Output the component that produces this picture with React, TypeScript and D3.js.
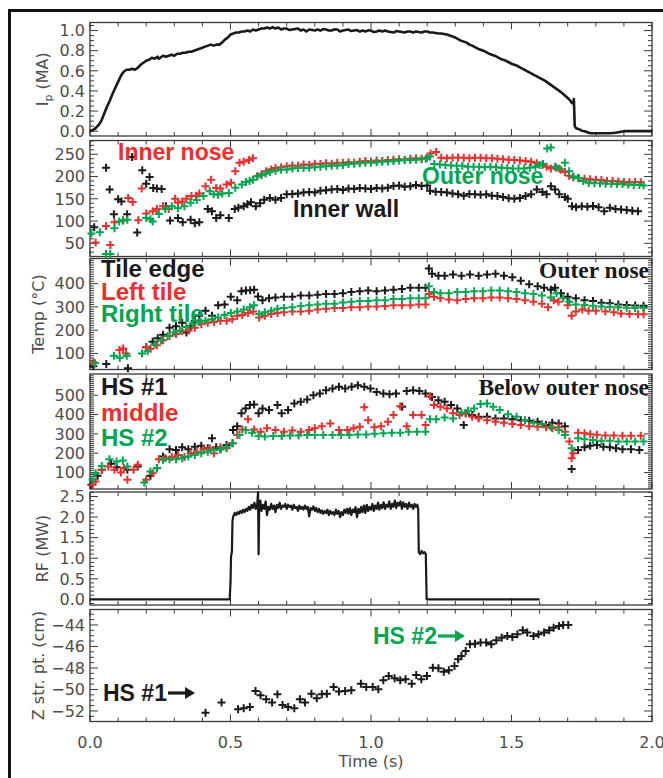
import React from "react";
import * as d3 from "d3";

type Pt = [number, number];

// ---------------- data ----------------
const timeTicks = [0, 0.5, 1.0, 1.5, 2.0];
const timeTickLabels = ["0.0", "0.5", "1.0", "1.5", "2.0"];

const ipTicks = [0, 0.2, 0.4, 0.6, 0.8, 1.0];
const ipTickLabels = ["0.0", "0.2", "0.4", "0.6", "0.8", "1.0"];
const noseTicks = [50, 100, 150, 200, 250];
const noseTickLabels = ["50", "100", "150", "200", "250"];
const tileTicks = [100, 200, 300, 400];
const tileTickLabels = ["100", "200", "300", "400"];
const belowTicks = [100, 200, 300, 400, 500];
const belowTickLabels = ["100", "200", "300", "400", "500"];
const rfTicks = [0, 0.5, 1.0, 1.5, 2.0, 2.5];
const rfTickLabels = ["0.0", "0.5", "1.0", "1.5", "2.0", "2.5"];
const zTicks = [-52, -50, -48, -46, -44];
const zTickLabels = ["\u221252", "\u221250", "\u221248", "\u221246", "\u221244"];

// Plasma current (MA)
const ipCurrent: Pt[] = [
  [0, 0], [0.01, 0.01], [0.02, 0.03], [0.03, 0.06], [0.04, 0.1], [0.05, 0.17], [0.06, 0.24], [0.07, 0.3],
  [0.08, 0.37], [0.09, 0.43], [0.1, 0.49], [0.11, 0.55], [0.12, 0.59], [0.13, 0.61], [0.14, 0.61], [0.15, 0.62],
  [0.16, 0.61], [0.17, 0.63], [0.18, 0.66], [0.19, 0.68], [0.2, 0.7], [0.21, 0.71], [0.22, 0.73], [0.23, 0.72],
  [0.24, 0.74], [0.245, 0.72], [0.25, 0.73], [0.26, 0.75], [0.27, 0.74], [0.28, 0.75], [0.29, 0.76], [0.3, 0.75],
  [0.31, 0.77], [0.32, 0.77], [0.33, 0.78], [0.34, 0.78], [0.35, 0.79], [0.36, 0.79], [0.37, 0.8], [0.38, 0.81],
  [0.39, 0.82], [0.4, 0.83], [0.41, 0.84], [0.42, 0.85], [0.43, 0.86], [0.44, 0.85], [0.45, 0.86], [0.46, 0.86],
  [0.47, 0.88], [0.48, 0.91], [0.49, 0.93], [0.5, 0.96], [0.51, 0.97], [0.52, 0.98], [0.53, 0.98], [0.54, 0.99],
  [0.55, 0.99], [0.56, 1.0], [0.57, 0.99], [0.58, 1.01], [0.59, 1.0], [0.6, 1.01], [0.61, 1.02], [0.62, 1.02],
  [0.63, 1.03], [0.64, 1.02], [0.65, 1.035], [0.66, 1.02], [0.67, 1.03], [0.68, 1.01], [0.69, 1.02], [0.7, 1.02],
  [0.71, 1.005], [0.72, 1.01], [0.73, 1.015], [0.74, 1.02], [0.75, 1.0], [0.76, 1.01], [0.77, 0.99], [0.78, 1.01],
  [0.79, 1.005], [0.8, 1.0], [0.81, 1.01], [0.82, 1.0], [0.83, 1.015], [0.84, 1.01], [0.85, 1.0], [0.86, 1.0],
  [0.87, 1.012], [0.88, 1.01], [0.89, 0.99], [0.9, 1.0], [0.91, 1.005], [0.92, 1.01], [0.93, 0.995], [0.94, 1.0],
  [0.95, 1.005], [0.96, 0.99], [0.97, 1.0], [0.98, 0.99], [0.99, 1.002], [1.0, 1.0], [1.01, 0.985], [1.02, 0.99],
  [1.03, 1.0], [1.04, 0.99], [1.05, 1.0], [1.06, 0.99], [1.07, 0.985], [1.08, 0.98], [1.09, 0.995], [1.1, 0.99],
  [1.11, 0.985], [1.12, 0.98], [1.13, 0.99], [1.14, 0.99], [1.15, 0.98], [1.16, 0.99], [1.17, 0.985], [1.18, 0.98],
  [1.19, 0.99], [1.2, 0.99], [1.21, 0.98], [1.22, 0.98], [1.23, 0.975], [1.24, 0.97], [1.25, 0.97], [1.26, 0.965],
  [1.27, 0.96], [1.28, 0.95], [1.29, 0.94], [1.3, 0.93], [1.31, 0.915], [1.32, 0.9], [1.33, 0.89], [1.34, 0.88],
  [1.35, 0.86], [1.36, 0.85], [1.37, 0.835], [1.38, 0.82], [1.39, 0.81], [1.4, 0.8], [1.41, 0.785], [1.42, 0.77],
  [1.43, 0.76], [1.44, 0.75], [1.45, 0.735], [1.46, 0.72], [1.47, 0.71], [1.48, 0.7], [1.49, 0.685], [1.5, 0.67],
  [1.51, 0.66], [1.52, 0.65], [1.53, 0.635], [1.54, 0.62], [1.55, 0.605], [1.56, 0.59], [1.57, 0.575], [1.58, 0.56],
  [1.59, 0.545], [1.6, 0.53], [1.61, 0.515], [1.62, 0.5], [1.63, 0.48], [1.64, 0.46], [1.65, 0.44], [1.66, 0.42],
  [1.67, 0.4], [1.68, 0.38], [1.69, 0.355], [1.7, 0.33], [1.71, 0.3], [1.715, 0.28], [1.72, 0.275], [1.722, 0.32],
  [1.725, 0.05], [1.73, 0.03], [1.74, 0.02], [1.75, 0.005], [1.76, 0.0], [1.78, -0.02], [1.8, -0.02], [1.83, -0.02],
  [1.85, -0.02], [1.87, -0.015], [1.88, -0.01], [1.9, 0.0], [1.95, 0.0], [2.0, 0.0],
];

// Panel 2: inner nose (red), outer nose (green), inner wall (black)
const innerNose: Pt[] = [
  [0.02, 52], [0.057, 89], [0.072, 46], [0.087, 97], [0.118, 102], [0.136, 152], [0.152, 143], [0.172, 102],
  [0.184, 173], [0.2, 117], [0.223, 122], [0.238, 127], [0.26, 133], [0.28, 127], [0.303, 150], [0.313, 141],
  [0.328, 144], [0.343, 150], [0.361, 156], [0.377, 157], [0.389, 162], [0.411, 178], [0.431, 193], [0.449, 174],
  [0.464, 173], [0.486, 182], [0.502, 186], [0.517, 212], [0.532, 231], [0.547, 233], [0.566, 237], [0.58, 241],
  [0.596, 201], [0.611, 205], [0.627, 212], [0.645, 216], [0.66, 219], [0.68, 221], [0.7, 223], [0.72, 225],
  [0.74, 224], [0.76, 227], [0.78, 226], [0.8, 229], [0.82, 228], [0.84, 230], [0.86, 229], [0.88, 231],
  [0.9, 231], [0.92, 232], [0.94, 231], [0.96, 233], [0.98, 235], [1.0, 234], [1.02, 236], [1.04, 235],
  [1.06, 237], [1.08, 238], [1.1, 239], [1.12, 238], [1.14, 240], [1.16, 241], [1.18, 240], [1.2, 242],
  [1.212, 252], [1.232, 255], [1.25, 242], [1.27, 241], [1.29, 242], [1.31, 243], [1.33, 242], [1.35, 241],
  [1.37, 242], [1.39, 242], [1.41, 241], [1.43, 241], [1.45, 240], [1.47, 239], [1.49, 238], [1.51, 237],
  [1.53, 236], [1.55, 235], [1.57, 233], [1.59, 230], [1.61, 226], [1.625, 222], [1.64, 218], [1.66, 220],
  [1.675, 215], [1.69, 210], [1.705, 202], [1.72, 198], [1.74, 196], [1.76, 195], [1.78, 194], [1.8, 193],
  [1.82, 192], [1.84, 190], [1.86, 190], [1.88, 189], [1.9, 188], [1.92, 187], [1.94, 188], [1.96, 187],
];
const outerNose: Pt[] = [
  [0.005, 72], [0.035, 75], [0.057, 26], [0.072, 26], [0.087, 84], [0.104, 99], [0.118, 101], [0.133, 103],
  [0.2, 107], [0.215, 104], [0.223, 99], [0.245, 116], [0.268, 127], [0.291, 133], [0.313, 129], [0.336, 133],
  [0.358, 141], [0.38, 147], [0.404, 156], [0.426, 167], [0.44, 160], [0.455, 159], [0.471, 162], [0.494, 163],
  [0.517, 175], [0.54, 182], [0.555, 188], [0.568, 190], [0.58, 193], [0.595, 200], [0.61, 203], [0.625, 207],
  [0.64, 210], [0.66, 213], [0.68, 215], [0.7, 216], [0.72, 218], [0.74, 219], [0.76, 219], [0.78, 220],
  [0.8, 221], [0.82, 222], [0.84, 223], [0.86, 224], [0.88, 225], [0.9, 226], [0.92, 228], [0.94, 229],
  [0.96, 230], [0.98, 231], [1.0, 231], [1.02, 232], [1.04, 233], [1.06, 234], [1.08, 235], [1.1, 236],
  [1.12, 237], [1.14, 237], [1.16, 238], [1.18, 239], [1.195, 240], [1.21, 245], [1.225, 228], [1.245, 227],
  [1.265, 226], [1.285, 225], [1.305, 224], [1.325, 224], [1.345, 222], [1.365, 222], [1.385, 222], [1.405, 221],
  [1.425, 222], [1.445, 221], [1.465, 220], [1.485, 219], [1.505, 218], [1.525, 218], [1.545, 218], [1.565, 220],
  [1.585, 222], [1.6, 226], [1.612, 228], [1.627, 263], [1.64, 265], [1.655, 222], [1.67, 218], [1.69, 231],
  [1.705, 212], [1.72, 200], [1.737, 197], [1.755, 190], [1.775, 186], [1.795, 185], [1.815, 185], [1.835, 184],
  [1.855, 184], [1.875, 183], [1.895, 183], [1.915, 182], [1.935, 181], [1.955, 181], [1.97, 180],
];
const innerWall: Pt[] = [
  [0.015, 86], [0.057, 220], [0.07, 171], [0.085, 115], [0.1, 149], [0.112, 144], [0.132, 115], [0.15, 244],
  [0.168, 74], [0.186, 214], [0.2, 184], [0.212, 199], [0.225, 174], [0.238, 173], [0.255, 172], [0.27, 133],
  [0.285, 101], [0.313, 107], [0.33, 97], [0.358, 103], [0.373, 95], [0.389, 97], [0.419, 127], [0.434, 122],
  [0.449, 107], [0.464, 113], [0.494, 107], [0.515, 127], [0.528, 130], [0.547, 133], [0.56, 138], [0.573, 142],
  [0.59, 133], [0.605, 140], [0.62, 148], [0.64, 152], [0.66, 148], [0.68, 152], [0.7, 160], [0.72, 161],
  [0.74, 162], [0.76, 164], [0.78, 165], [0.8, 164], [0.82, 168], [0.84, 169], [0.86, 171], [0.88, 172],
  [0.9, 170], [0.92, 173], [0.94, 172], [0.96, 174], [0.98, 173], [1.0, 172], [1.02, 174], [1.04, 173],
  [1.06, 175], [1.08, 179], [1.1, 180], [1.12, 177], [1.14, 178], [1.16, 181], [1.18, 179], [1.2, 180],
  [1.21, 168], [1.23, 166], [1.25, 165], [1.27, 164], [1.29, 162], [1.31, 160], [1.33, 157], [1.35, 161],
  [1.37, 160], [1.39, 159], [1.41, 160], [1.43, 157], [1.45, 156], [1.47, 154], [1.49, 151], [1.51, 150],
  [1.53, 152], [1.55, 156], [1.57, 160], [1.59, 171], [1.61, 165], [1.625, 160], [1.64, 178], [1.655, 171],
  [1.67, 160], [1.69, 154], [1.7, 150], [1.715, 133], [1.73, 131], [1.75, 133], [1.77, 132], [1.79, 134],
  [1.81, 131], [1.83, 122], [1.85, 130], [1.87, 127], [1.89, 126], [1.91, 125], [1.93, 123], [1.95, 122],
];

// Panel 3: outer nose tiles
const tileEdge: Pt[] = [
  [0.012, 45], [0.058, 55], [0.135, 36], [0.2, 127], [0.223, 150], [0.241, 165], [0.26, 180], [0.283, 210],
  [0.306, 217], [0.328, 232], [0.343, 190], [0.358, 217], [0.373, 240], [0.389, 262], [0.411, 284], [0.434, 262],
  [0.456, 307], [0.479, 310], [0.501, 344], [0.524, 329], [0.539, 367], [0.555, 370], [0.57, 372], [0.584, 374],
  [0.598, 345], [0.614, 329], [0.637, 337], [0.66, 340], [0.69, 344], [0.72, 344], [0.75, 349], [0.78, 349],
  [0.81, 352], [0.84, 355], [0.87, 355], [0.9, 359], [0.93, 364], [0.96, 367], [0.99, 370], [1.02, 367],
  [1.05, 370], [1.08, 374], [1.11, 377], [1.14, 382], [1.17, 382], [1.194, 382], [1.206, 465], [1.217, 442],
  [1.24, 434], [1.262, 434], [1.292, 439], [1.322, 434], [1.352, 439], [1.383, 434], [1.413, 439], [1.443, 442],
  [1.473, 434], [1.503, 427], [1.533, 412], [1.563, 397], [1.593, 389], [1.616, 382], [1.64, 374], [1.655, 382],
  [1.676, 359], [1.7, 344], [1.729, 337], [1.76, 329], [1.79, 325], [1.82, 318], [1.85, 316], [1.88, 310],
  [1.91, 308], [1.94, 306], [1.97, 305],
];
const leftTile: Pt[] = [
  [0.012, 62], [0.105, 115], [0.118, 121], [0.128, 100], [0.2, 127], [0.215, 120], [0.238, 135], [0.26, 157],
  [0.283, 175], [0.306, 184], [0.328, 195], [0.351, 199], [0.373, 210], [0.396, 225], [0.419, 232], [0.441, 235],
  [0.464, 240], [0.486, 240], [0.506, 247], [0.524, 262], [0.542, 265], [0.562, 274], [0.581, 280], [0.602, 254],
  [0.622, 262], [0.645, 269], [0.667, 274], [0.69, 277], [0.72, 280], [0.75, 280], [0.78, 284], [0.81, 289],
  [0.84, 292], [0.87, 295], [0.9, 295], [0.93, 299], [0.96, 299], [0.99, 302], [1.02, 302], [1.05, 304],
  [1.08, 307], [1.11, 307], [1.14, 307], [1.17, 310], [1.194, 310], [1.206, 355], [1.224, 344], [1.247, 337],
  [1.277, 332], [1.307, 329], [1.337, 334], [1.367, 337], [1.398, 337], [1.428, 340], [1.458, 340], [1.488, 337],
  [1.518, 334], [1.548, 329], [1.578, 322], [1.608, 314], [1.63, 299], [1.65, 329], [1.667, 322], [1.7, 307],
  [1.714, 262], [1.729, 280], [1.752, 289], [1.774, 284], [1.8, 284], [1.834, 280], [1.864, 277], [1.89, 272],
  [1.92, 270], [1.95, 268], [1.97, 268],
];
const rightTile: Pt[] = [
  [0.018, 58], [0.085, 90], [0.106, 82], [0.131, 90], [0.185, 100], [0.205, 109], [0.23, 139], [0.253, 157],
  [0.276, 175], [0.298, 190], [0.32, 199], [0.343, 214], [0.366, 225], [0.389, 235], [0.411, 240], [0.434, 247],
  [0.456, 254], [0.479, 265], [0.501, 274], [0.524, 280], [0.547, 289], [0.569, 299], [0.584, 307], [0.602, 269],
  [0.622, 277], [0.645, 284], [0.667, 292], [0.69, 295], [0.72, 299], [0.75, 304], [0.78, 307], [0.81, 310],
  [0.84, 314], [0.87, 314], [0.9, 319], [0.93, 322], [0.96, 325], [0.99, 325], [1.02, 329], [1.05, 329],
  [1.08, 334], [1.11, 334], [1.14, 337], [1.17, 337], [1.194, 337], [1.206, 389], [1.224, 364], [1.247, 359],
  [1.277, 359], [1.307, 364], [1.337, 364], [1.367, 367], [1.398, 367], [1.428, 370], [1.458, 370], [1.488, 367],
  [1.518, 364], [1.548, 359], [1.578, 355], [1.608, 349], [1.64, 340], [1.66, 359], [1.684, 337], [1.706, 322],
  [1.729, 310], [1.76, 308], [1.79, 305], [1.82, 302], [1.85, 300], [1.88, 298], [1.91, 296], [1.94, 295],
  [1.97, 295],
];

// Panel 4: below outer nose
const hs1: Pt[] = [
  [0.005, 37], [0.027, 83], [0.042, 114], [0.075, 145], [0.095, 128], [0.133, 114], [0.17, 131], [0.215, 83],
  [0.238, 122], [0.26, 183], [0.283, 220], [0.306, 217], [0.328, 231], [0.35, 220], [0.373, 234], [0.396, 238],
  [0.419, 226], [0.434, 277], [0.449, 231], [0.464, 220], [0.486, 243], [0.509, 320], [0.524, 340], [0.539, 406],
  [0.554, 431], [0.569, 449], [0.584, 452], [0.6, 406], [0.614, 431], [0.637, 423], [0.667, 449], [0.682, 406],
  [0.705, 423], [0.727, 457], [0.75, 466], [0.773, 478], [0.795, 500], [0.818, 509], [0.84, 526], [0.863, 534],
  [0.886, 543], [0.908, 534], [0.931, 543], [0.953, 551], [0.976, 543], [0.998, 534], [1.02, 517], [1.044, 509],
  [1.066, 505], [1.089, 509], [1.111, 440], [1.127, 522], [1.15, 526], [1.172, 522], [1.194, 509], [1.217, 491],
  [1.24, 474], [1.262, 466], [1.285, 449], [1.307, 431], [1.33, 346], [1.337, 406], [1.36, 397], [1.383, 389],
  [1.413, 389], [1.443, 380], [1.473, 380], [1.503, 375], [1.533, 371], [1.563, 368], [1.593, 363], [1.623, 346],
  [1.645, 358], [1.668, 354], [1.69, 340], [1.714, 118], [1.737, 217], [1.76, 231], [1.78, 238], [1.804, 243],
  [1.827, 234], [1.85, 231], [1.872, 226], [1.895, 220], [1.925, 220], [1.955, 217],
];
const middle: Pt[] = [
  [0.009, 37], [0.02, 54], [0.042, 114], [0.065, 131], [0.087, 114], [0.11, 100], [0.12, 123], [0.133, 63],
  [0.155, 114], [0.17, 140], [0.2, 63], [0.223, 97], [0.245, 169], [0.268, 174], [0.291, 180], [0.313, 191],
  [0.336, 180], [0.358, 200], [0.38, 208], [0.404, 220], [0.426, 226], [0.441, 200], [0.464, 231], [0.486, 226],
  [0.506, 251], [0.524, 294], [0.542, 323], [0.562, 375], [0.584, 323], [0.607, 311], [0.63, 329], [0.66, 320],
  [0.69, 311], [0.72, 317], [0.75, 311], [0.78, 320], [0.8, 329], [0.825, 340], [0.855, 354], [0.886, 320],
  [0.916, 320], [0.938, 329], [0.96, 337], [0.976, 437], [0.99, 371], [1.012, 334], [1.036, 340], [1.06, 363],
  [1.08, 397], [1.104, 443], [1.127, 340], [1.15, 397], [1.18, 397], [1.194, 346], [1.21, 495], [1.224, 449],
  [1.247, 440], [1.27, 431], [1.292, 406], [1.315, 397], [1.337, 406], [1.36, 389], [1.383, 380], [1.413, 371],
  [1.443, 363], [1.473, 358], [1.503, 351], [1.533, 346], [1.563, 340], [1.593, 337], [1.623, 334], [1.645, 329],
  [1.668, 334], [1.69, 311], [1.706, 260], [1.714, 174], [1.72, 200], [1.737, 306], [1.76, 303], [1.78, 298],
  [1.804, 295], [1.834, 292], [1.864, 292], [1.895, 290], [1.925, 290], [1.96, 290],
];
const hs2: Pt[] = [
  [0.009, 63], [0.02, 97], [0.042, 134], [0.069, 169], [0.095, 157], [0.117, 162], [0.133, 131], [0.193, 49],
  [0.215, 105], [0.238, 123], [0.26, 166], [0.283, 169], [0.306, 169], [0.328, 174], [0.35, 183], [0.373, 191],
  [0.396, 200], [0.419, 208], [0.441, 217], [0.464, 220], [0.486, 231], [0.509, 251], [0.532, 294], [0.554, 320],
  [0.577, 306], [0.6, 289], [0.622, 286], [0.652, 289], [0.682, 289], [0.712, 291], [0.742, 291], [0.773, 294],
  [0.8, 294], [0.83, 294], [0.863, 294], [0.893, 294], [0.923, 294], [0.953, 297], [0.983, 297], [1.013, 300],
  [1.044, 303], [1.074, 306], [1.104, 306], [1.134, 311], [1.164, 311], [1.194, 311], [1.21, 375], [1.232, 375],
  [1.262, 385], [1.292, 380], [1.322, 409], [1.345, 419], [1.367, 431], [1.39, 454], [1.413, 457], [1.435, 440],
  [1.458, 423], [1.488, 402], [1.518, 389], [1.548, 371], [1.578, 358], [1.608, 351], [1.64, 337], [1.668, 320],
  [1.69, 294], [1.714, 226], [1.737, 277], [1.76, 272], [1.79, 268], [1.82, 265], [1.85, 265], [1.88, 260],
  [1.91, 260], [1.94, 260], [1.97, 260],
];

// Panel 5: RF power (MW)
const rfPower: Pt[] = [
  [0, 0], [0.497, 0], [0.5, 0.4], [0.502, 1.05], [0.505, 1.15], [0.507, 1.9], [0.51, 2.02], [0.515, 2.1],
  [0.52, 2.05], [0.525, 2.12], [0.53, 2.08], [0.535, 2.15], [0.54, 2.1], [0.545, 2.18], [0.55, 2.12], [0.555, 2.2],
  [0.56, 2.15], [0.565, 2.25], [0.57, 2.18], [0.575, 2.3], [0.58, 2.22], [0.585, 2.35], [0.59, 2.2], [0.595, 2.3],
  [0.598, 2.6], [0.6, 1.1], [0.602, 2.2], [0.606, 2.4], [0.61, 2.15], [0.615, 2.3], [0.62, 2.2], [0.625, 2.38],
  [0.63, 2.05], [0.635, 2.25], [0.64, 2.18], [0.645, 2.32], [0.65, 2.2], [0.655, 2.28], [0.66, 2.12], [0.665, 2.3],
  [0.67, 2.22], [0.675, 2.35], [0.68, 2.2], [0.685, 2.28], [0.69, 2.25], [0.695, 2.32], [0.7, 2.2], [0.705, 2.3],
  [0.71, 2.25], [0.715, 2.28], [0.72, 2.18], [0.725, 2.3], [0.73, 2.22], [0.735, 2.25], [0.74, 2.15], [0.745, 2.28],
  [0.75, 2.2], [0.755, 2.25], [0.76, 2.18], [0.765, 2.28], [0.77, 2.2], [0.775, 2.25], [0.78, 2.02], [0.785, 2.22],
  [0.79, 2.18], [0.795, 2.26], [0.8, 2.15], [0.805, 2.22], [0.81, 2.12], [0.815, 2.2], [0.82, 2.1], [0.825, 2.16],
  [0.83, 2.08], [0.835, 2.15], [0.84, 2.1], [0.845, 2.18], [0.85, 2.05], [0.855, 2.15], [0.86, 2.08], [0.865, 2.12],
  [0.87, 2.05], [0.875, 2.18], [0.88, 2.08], [0.885, 2.15], [0.89, 2.0], [0.895, 2.12], [0.9, 2.05], [0.905, 2.18],
  [0.91, 2.1], [0.915, 2.2], [0.92, 2.08], [0.925, 2.22], [0.93, 2.05], [0.935, 2.18], [0.94, 2.12], [0.945, 2.24],
  [0.95, 2.0], [0.955, 2.2], [0.96, 2.1], [0.965, 2.25], [0.97, 2.12], [0.975, 2.28], [0.98, 2.1], [0.985, 2.3],
  [0.99, 2.15], [0.995, 2.25], [1.0, 2.18], [1.005, 2.32], [1.01, 2.15], [1.015, 2.28], [1.02, 2.2], [1.025, 2.35],
  [1.03, 2.18], [1.035, 2.3], [1.04, 2.22], [1.045, 2.36], [1.05, 2.2], [1.055, 2.3], [1.06, 2.25], [1.065, 2.38],
  [1.07, 2.2], [1.075, 2.32], [1.08, 2.25], [1.085, 2.4], [1.09, 2.22], [1.095, 2.35], [1.1, 2.28], [1.105, 2.38],
  [1.11, 2.2], [1.115, 2.36], [1.12, 2.25], [1.125, 2.32], [1.13, 2.2], [1.135, 2.35], [1.14, 2.25], [1.145, 2.3],
  [1.15, 2.2], [1.155, 2.32], [1.16, 2.25], [1.165, 2.3], [1.168, 2.2], [1.17, 1.15], [1.175, 1.1], [1.18, 1.18],
  [1.185, 1.12], [1.19, 1.15], [1.195, 1.1], [1.198, 0], [1.6, 0],
];

// Panel 6: Z of strike point (cm)
const zStrike: Pt[] = [
  [0.411, -52.16], [0.468, -51.22], [0.527, -51.84], [0.547, -51.75], [0.569, -51.63], [0.589, -50.14],
  [0.607, -50.54], [0.627, -50.91], [0.648, -51.22], [0.667, -50.45], [0.685, -51.44], [0.705, -51.63],
  [0.727, -51.75], [0.747, -50.91], [0.765, -51.22], [0.788, -50.39], [0.807, -50.82], [0.825, -50.45],
  [0.843, -50.39], [0.867, -49.77], [0.886, -50.2], [0.908, -50.14], [0.93, -50.08], [0.964, -49.46],
  [0.983, -49.77], [1.006, -49.77], [1.026, -49.98], [1.044, -49.15], [1.063, -48.74], [1.084, -48.96],
  [1.104, -49.15], [1.123, -49.05], [1.145, -49.46], [1.161, -48.65], [1.179, -49.05], [1.199, -48.74],
  [1.22, -47.97], [1.24, -48.03], [1.259, -48.34], [1.277, -48.22], [1.297, -47.81], [1.31, -47.19],
  [1.322, -46.88], [1.337, -46.42], [1.352, -45.8], [1.37, -45.74], [1.39, -45.64], [1.41, -45.64],
  [1.428, -45.8], [1.446, -45.43], [1.465, -45.18], [1.485, -45.02], [1.503, -45.12], [1.521, -44.87],
  [1.54, -44.5], [1.556, -44.71], [1.578, -45.02], [1.596, -44.87], [1.616, -44.71], [1.634, -44.5],
  [1.65, -44.25], [1.669, -44.09], [1.684, -44.0], [1.702, -44.0],
];

// ---------------- layout / style ----------------
const RED = "#ee2d2d";
const GREEN = "#00a650";
const BLACK = "#1a1a1a";
const AXIS = "#3a3a3a";
const AXIS_TEXT = "#4d4d4d";
const AXIS_FONT = "'DejaVu Sans', 'Liberation Sans', sans-serif";
const LABEL_FONT = "'Liberation Sans', Arial, Helvetica, sans-serif";
const SERIF_FONT = "'Liberation Serif', 'Times New Roman', serif";

type PanelDef = {
  top: number;
  bottom: number;
  domain: [number, number];
  ticks: number[];
  labels: string[];
  minor: number;
};

const panels: PanelDef[] = [
  { top: 22.5, bottom: 136, domain: [-0.048, 1.08], ticks: ipTicks, labels: ipTickLabels, minor: 0.05 },
  { top: 140.5, bottom: 256.5, domain: [20.3, 281], ticks: noseTicks, labels: noseTickLabels, minor: 10 },
  { top: 258.5, bottom: 369.5, domain: [31, 508], ticks: tileTicks, labels: tileTickLabels, minor: 10 },
  { top: 374, bottom: 489, domain: [15, 609.5], ticks: belowTicks, labels: belowTickLabels, minor: 10 },
  { top: 492, bottom: 605, domain: [-0.137, 2.61], ticks: rfTicks, labels: rfTickLabels, minor: 0.1 },
  { top: 609.5, bottom: 721.5, domain: [-52.98, -42.56], ticks: zTicks, labels: zTickLabels, minor: 0.5 },
];

const X0 = 90;
const X1 = 652;

function crossPath(data: Pt[], x: (v: number) => number, y: (v: number) => number, s = 4): string {
  return data
    .map(([t, v]) => {
      const px = x(t);
      const py = y(v);
      return `M${px - s},${py}h${2 * s}M${px},${py - s}v${2 * s}`;
    })
    .join("");
}

function Arrow({ x1, x2, y, color }: { x1: number; x2: number; y: number; color: string }) {
  return (
    <g>
      <line x1={x1} x2={x2 - 8} y1={y} y2={y} stroke={color} strokeWidth={3.2} />
      <path d={`M${x2},${y} L${x2 - 10},${y - 6} L${x2 - 10},${y + 6} Z`} fill={color} />
    </g>
  );
}

export default function App() {
  const W = 663;
  const H = 778;
  const x = d3.scaleLinear().domain([0, 2]).range([X0, X1]);
  const ys = panels.map((p) => d3.scaleLinear().domain(p.domain).range([p.bottom, p.top]));
  const xMinor = d3.range(0, 2.0001, 0.1);

  const line = (y: d3.ScaleLinear<number, number>) =>
    d3
      .line<Pt>()
      .x((d) => x(d[0]))
      .y((d) => y(d[1]));

  const axes = panels.map((p, i) => {
    const y = ys[i];
    const [lo, hi] = p.domain;
    const minors = d3
      .range(Math.ceil(lo / p.minor) * p.minor, hi, p.minor)
      .filter((v) => !p.ticks.some((m) => Math.abs(m - v) < p.minor * 0.01));
    return (
      <g key={i}>
        {xMinor.map((t, j) => {
          const major = j % 5 === 0;
          const len = major ? 7 : 4;
          const px = x(t);
          return (
            <g key={j}>
              <line x1={px} x2={px} y1={p.bottom} y2={p.bottom - len} stroke={AXIS} strokeWidth={1} />
              <line x1={px} x2={px} y1={p.top} y2={p.top + len} stroke={AXIS} strokeWidth={1} />
            </g>
          );
        })}
        {minors.map((v, j) => (
          <g key={"m" + j}>
            <line x1={X0} x2={X0 + 4} y1={y(v)} y2={y(v)} stroke={AXIS} strokeWidth={1} />
            <line x1={X1} x2={X1 - 4} y1={y(v)} y2={y(v)} stroke={AXIS} strokeWidth={1} />
          </g>
        ))}
        {p.ticks.map((v, j) => (
          <g key={"M" + j}>
            <line x1={X0} x2={X0 + 8} y1={y(v)} y2={y(v)} stroke={AXIS} strokeWidth={1} />
            <line x1={X1} x2={X1 - 8} y1={y(v)} y2={y(v)} stroke={AXIS} strokeWidth={1} />
            <text
              x={85}
              y={y(v)}
              dy="0.36em"
              textAnchor="end"
              fontFamily={AXIS_FONT}
              fontSize={16}
              fill={AXIS_TEXT}
            >
              {p.labels[j]}
            </text>
          </g>
        ))}
        <rect
          x={X0}
          y={p.top}
          width={X1 - X0}
          height={p.bottom - p.top}
          fill="none"
          stroke={AXIS}
          strokeWidth={1.3}
        />
      </g>
    );
  });

  const [y1, y2, y3, y4, y5, y6] = ys;

  const titleProps = {
    fontFamily: AXIS_FONT,
    fontSize: 16,
    fill: AXIS_TEXT,
    textAnchor: "middle" as const,
  };

  const bold = { fontFamily: LABEL_FONT, fontWeight: 700, fontSize: 23 };
  const serif = { fontFamily: SERIF_FONT, fontWeight: 700, fontSize: 23.5, textAnchor: "end" as const, fill: BLACK };

  return (
    <svg
      width={W}
      height={H}
      viewBox={`0 0 ${W} ${H}`}
      style={{ position: "absolute", left: 0, top: 0, background: "#fff" }}
    >
      <rect x={0} y={0} width={W} height={H} fill="#fff" />
      <rect x={9.5} y={10.5} width={800} height={900} fill="none" stroke="#111" strokeWidth={3} />

      {axes}

      {/* Panel 1: Ip */}
      <path d={line(y1)(ipCurrent) || ""} fill="none" stroke={BLACK} strokeWidth={2.6} strokeLinejoin="round" />
      <text {...titleProps} transform={`translate(48,${(panels[0].top + panels[0].bottom) / 2}) rotate(-90)`}>
        I<tspan fontSize={11} dy={4}>p</tspan>
        <tspan dy={-4}> (MA)</tspan>
      </text>

      {/* Panel 2 */}
      <path d={crossPath(innerWall, x, y2)} stroke={BLACK} strokeWidth={2} fill="none" />
      <path d={crossPath(innerNose, x, y2)} stroke={RED} strokeWidth={2} fill="none" />
      <path d={crossPath(outerNose, x, y2)} stroke={GREEN} strokeWidth={2} fill="none" />
      <text x={118} y={160} fill={RED} {...bold}>Inner nose</text>
      <text x={422} y={183.5} fill={GREEN} {...bold}>Outer nose</text>
      <text x={293} y={217} fill={BLACK} {...bold}>Inner wall</text>

      {/* Panel 3 */}
      <path d={crossPath(tileEdge, x, y3)} stroke={BLACK} strokeWidth={2} fill="none" />
      <path d={crossPath(leftTile, x, y3)} stroke={RED} strokeWidth={2} fill="none" />
      <path d={crossPath(rightTile, x, y3)} stroke={GREEN} strokeWidth={2} fill="none" />
      <text x={101} y={277} fill={BLACK} {...bold} fontSize={24}>Tile edge</text>
      <text x={101} y={299.5} fill={RED} {...bold} fontSize={24}>Left tile</text>
      <text x={101} y={321.5} fill={GREEN} {...bold} fontSize={24}>Right tile</text>
      <text x={649} y={278} {...serif}>Outer nose</text>
      <text {...titleProps} transform={`translate(44,${(panels[2].top + panels[2].bottom) / 2}) rotate(-90)`}>
        Temp (°C)
      </text>

      {/* Panel 4 */}
      <path d={crossPath(hs1, x, y4)} stroke={BLACK} strokeWidth={2} fill="none" />
      <path d={crossPath(middle, x, y4)} stroke={RED} strokeWidth={2} fill="none" />
      <path d={crossPath(hs2, x, y4)} stroke={GREEN} strokeWidth={2} fill="none" />
      <text x={101} y={395} fill={BLACK} {...bold} fontSize={24}>HS #1</text>
      <text x={101} y={420.5} fill={RED} {...bold} fontSize={24}>middle</text>
      <text x={101} y={446} fill={GREEN} {...bold} fontSize={24}>HS #2</text>
      <text x={649} y={395} {...serif}>Below outer nose</text>

      {/* Panel 5: RF */}
      <path d={line(y5)(rfPower) || ""} fill="none" stroke={BLACK} strokeWidth={2.2} strokeLinejoin="round" />
      <text {...titleProps} transform={`translate(48,${(panels[4].top + panels[4].bottom) / 2}) rotate(-90)`}>
        RF (MW)
      </text>

      {/* Panel 6: Z strike point */}
      <path d={crossPath(zStrike, x, y6)} stroke={BLACK} strokeWidth={2} fill="none" />
      <text x={103} y={701} fill={BLACK} {...bold}>HS #1</text>
      <Arrow x1={168} x2={195} y={693} color={BLACK} />
      <text x={373} y={643.5} fill={GREEN} {...bold}>HS #2</text>
      <Arrow x1={438} x2={465} y={636} color={GREEN} />
      <text {...titleProps} transform={`translate(44,${(panels[5].top + panels[5].bottom) / 2}) rotate(-90)`}>
        Z str. pt. (cm)
      </text>

      {/* Time axis labels */}
      {timeTicks.map((t, i) => (
        <text key={i} x={x(t)} y={747.5} textAnchor="middle" fontFamily={AXIS_FONT} fontSize={16} fill={AXIS_TEXT}>
          {timeTickLabels[i]}
        </text>
      ))}
      <text x={(X0 + X1) / 2} y={767} textAnchor="middle" fontFamily={AXIS_FONT} fontSize={16} fill={AXIS_TEXT}>
        Time (s)
      </text>
    </svg>
  );
}
